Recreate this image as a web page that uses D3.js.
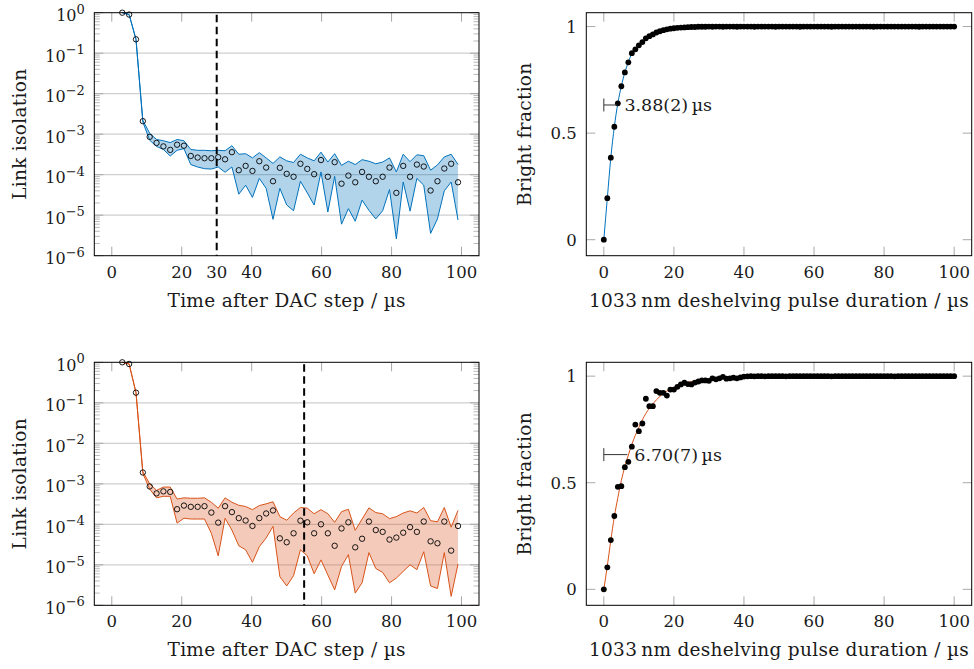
<!DOCTYPE html>
<html><head><meta charset="utf-8">
<script src="https://cdn.jsdelivr.net/npm/d3@7"></script>
<style>
body{margin:0;background:#fff}
text{font-family:"DejaVu Serif",serif;fill:#1a1a1a}
</style>
</head><body>
<svg id="c" width="974" height="669"></svg>
<script>
// ---------- data ----------
const timeUs = [3.00, 4.96, 6.92, 8.88, 10.84, 12.80, 14.76, 16.71, 18.67, 20.63,
  22.59, 24.55, 26.51, 28.47, 30.43, 32.39, 34.35, 36.31, 38.27, 40.22,
  42.18, 44.14, 46.10, 48.06, 50.02, 51.98, 53.94, 55.90, 57.86, 59.82,
  61.78, 63.73, 65.69, 67.65, 69.61, 71.57, 73.53, 75.49, 77.45, 79.41,
  81.37, 83.33, 85.29, 87.24, 89.20, 91.16, 93.12, 95.08, 97.04, 99.00];

const isoA = [1.0, 0.9, 0.22, 2.1e-3, 8.6e-4, 6.1e-4, 5.0e-4, 4.1e-4, 5.5e-4, 5.2e-4,
  2.9e-4, 2.65e-4, 2.55e-4, 2.55e-4, 2.7e-4, 2.4e-4, 3.6e-4, 1.29e-4, 1.65e-4, 1.24e-4,
  2.15e-4, 1.5e-4, 6.9e-5, 1.48e-4, 1.05e-4, 8.9e-5, 1.86e-4, 1.39e-4, 1.03e-4, 2.3e-4,
  8.9e-5, 2.04e-4, 6.0e-5, 9.5e-5, 6.5e-5, 1.17e-4, 8.9e-5, 6.9e-5, 8.9e-5, 1.5e-4,
  3.56e-5, 1.65e-4, 8.9e-5, 1.78e-4, 1.59e-4, 4.07e-5, 6.9e-5, 1.42e-4, 1.86e-4, 6.5e-5];
const isoAUpper = [1.0, 0.9, 0.22, 2.2e-3, 1.05e-3, 7.4e-4, 6.9e-4, 6.2e-4, 7.4e-4, 6.9e-4,
  4.2e-4, 4.0e-4, 4.0e-4, 3.9e-4, 4.0e-4, 3.9e-4, 5.2e-4, 3.2e-4, 3.3e-4, 2.6e-4,
  3.5e-4, 2.6e-4, 1.9e-4, 2.75e-4, 2.2e-4, 2.0e-4, 3.2e-4, 2.6e-4, 2.2e-4, 3.6e-4,
  2.05e-4, 3.3e-4, 1.7e-4, 2.15e-4, 1.78e-4, 2.35e-4, 2.15e-4, 1.86e-4, 2.05e-4, 2.6e-4,
  1.17e-4, 3.2e-4, 2.1e-4, 3.1e-4, 2.95e-4, 1.29e-4, 1.74e-4, 2.75e-4, 3.2e-4, 1.78e-4];
const isoALower = [1.0, 0.9, 0.22, 2.0e-3, 7.1e-4, 5.0e-4, 4.2e-4, 2.9e-4, 4.0e-4, 4.4e-4,
  1.78e-4, 1.55e-4, 1.41e-4, 1.38e-4, 1.55e-4, 1.15e-4, 1.55e-4, 3.3e-5, 5.5e-5, 2.75e-5,
  8.1e-5, 4.6e-5, 7.9e-6, 4.6e-5, 1.78e-5, 1.29e-5, 6.9e-5, 3.55e-5, 1.78e-5, 1.17e-4,
  1.2e-5, 9.1e-5, 6.0e-6, 1.45e-5, 7.1e-6, 2.35e-5, 1.32e-5, 8.1e-6, 1.29e-5, 4.3e-5,
  2.6e-6, 6.6e-5, 1.26e-5, 8.1e-5, 5.5e-5, 3.55e-6, 8.1e-6, 4.0e-5, 6.6e-5, 7.6e-6];

const isoB = [1.0, 0.91, 0.178, 1.9e-3, 8.6e-4, 5.8e-4, 6.5e-4, 6.3e-4, 2.36e-4, 2.9e-4,
  2.7e-4, 2.7e-4, 2.8e-4, 1.95e-4, 1.1e-4, 2.8e-4, 2.0e-4, 1.42e-4, 1.24e-4, 9.1e-5,
  1.42e-4, 1.85e-4, 2.2e-4, 4.5e-5, 3.6e-5, 6.0e-5, 1.23e-4, 1.12e-4, 6.0e-5, 1.0e-4,
  6.0e-5, 2.95e-5, 7.9e-5, 1.12e-4, 2.7e-5, 4.4e-5, 1.17e-4, 7.2e-5, 6.5e-5, 4.2e-5,
  4.7e-5, 6.2e-5, 8.5e-5, 6.5e-5, 1.17e-4, 3.8e-5, 3.4e-5, 1.17e-4, 2.24e-5, 9.1e-5];
const isoBUpper = [1.0, 0.91, 0.178, 2.0e-3, 1.0e-3, 6.9e-4, 8.3e-4, 8.3e-4, 4.2e-4, 4.5e-4,
  4.4e-4, 4.4e-4, 4.5e-4, 3.5e-4, 2.5e-4, 4.5e-4, 3.5e-4, 2.95e-4, 2.75e-4, 2.3e-4,
  2.9e-4, 3.2e-4, 3.6e-4, 1.55e-4, 1.26e-4, 1.9e-4, 2.6e-4, 2.5e-4, 1.82e-4, 2.3e-4,
  1.82e-4, 1.12e-4, 2.05e-4, 2.35e-4, 7.1e-5, 1.35e-4, 2.55e-4, 1.95e-4, 1.82e-4, 1.38e-4,
  1.55e-4, 1.9e-4, 2.15e-4, 1.9e-4, 2.6e-4, 1.23e-4, 1.15e-4, 2.6e-4, 8.5e-5, 2.2e-4];
const isoBLower = [1.0, 0.91, 0.178, 1.8e-3, 7.4e-4, 4.5e-4, 4.9e-4, 4.9e-4, 1.07e-4, 1.41e-4,
  1.35e-4, 1.35e-4, 1.35e-4, 6.0e-5, 1.66e-5, 1.41e-4, 7.2e-5, 2.95e-5, 2.35e-5, 1.15e-5,
  2.8e-5, 4.6e-5, 8.9e-5, 5.1e-6, 3.0e-6, 5.4e-6, 2.35e-5, 1.66e-5, 6.0e-6, 1.32e-5,
  5.6e-6, 2.4e-6, 9.1e-6, 1.78e-5, 2.0e-6, 3.6e-6, 2.0e-5, 8.1e-6, 6.5e-6, 3.6e-6,
  4.7e-6, 6.9e-6, 1.0e-5, 7.6e-6, 2.1e-5, 3.0e-6, 2.6e-6, 2.0e-5, 1.66e-6, 1.05e-5];

const dacMarkerA = 30, dacMarkerB = 55;

const pulseUs = [0,1,2,3,4,5,6,7,8,9,10,11,12,13,14,15,16,17,18,19,20,21,22,23,24,25,26,27,28,29,
  30,31,32,33,34,35,36,37,38,39,40,41,42,43,44,45,46,47,48,49,50,51,52,53,54,55,56,57,58,59,
  60,61,62,63,64,65,66,67,68,69,70,71,72,73,74,75,76,77,78,79,80,81,82,83,84,85,86,87,88,89,
  90,91,92,93,94,95,96,97,98,99,100];
const brightA = [0.0, 0.195, 0.385, 0.53, 0.64, 0.72, 0.785, 0.832, 0.875, 0.893,
  0.912, 0.927, 0.945, 0.955, 0.963, 0.972, 0.978, 0.983, 0.987, 0.99,
  0.992, 0.994, 0.995, 0.996, 0.997, 0.998, 0.998, 0.999, 0.999, 0.999,
  1.0, 0.999, 1.0, 1.0, 0.999, 1.0, 1.0, 1.0, 0.999, 1.0,
  1.0, 1.0, 1.0, 0.999, 1.0, 1.0, 1.0, 1.0, 1.0, 0.999,
  1.0, 1.0, 1.0, 1.0, 1.0, 1.0, 0.999, 1.0, 1.0, 1.0,
  1.0, 1.0, 1.0, 1.0, 1.0, 0.999, 1.0, 1.0, 1.0, 1.0,
  1.0, 1.0, 1.0, 1.0, 1.0, 1.0, 1.0, 0.999, 1.0, 1.0,
  1.0, 1.0, 1.0, 1.0, 1.0, 1.0, 1.0, 1.0, 1.0, 1.0,
  0.999, 1.0, 1.0, 1.0, 1.0, 1.0, 1.0, 1.0, 1.0, 1.0, 1.0];
const brightB = [0.0, 0.103, 0.231, 0.344, 0.481, 0.484, 0.573, 0.598, 0.669, 0.773,
  0.742, 0.778, 0.894, 0.859, 0.859, 0.93, 0.922, 0.922, 0.909, 0.937,
  0.937, 0.95, 0.961, 0.969, 0.963, 0.961, 0.97, 0.975, 0.98, 0.98,
  0.978, 0.99, 0.985, 0.99, 0.997, 0.988, 0.99, 0.993, 0.99, 0.994,
  0.998, 0.999, 1.0, 0.999, 1.0, 1.0, 0.999, 1.0, 1.0, 1.0,
  1.0, 1.0, 0.999, 1.0, 1.0, 1.0, 1.0, 1.0, 1.0, 1.0,
  1.0, 1.0, 1.0, 1.0, 1.0, 0.999, 1.0, 1.0, 1.0, 1.0,
  1.0, 1.0, 1.0, 1.0, 1.0, 1.0, 1.0, 1.0, 1.0, 1.0,
  1.0, 1.0, 1.0, 0.999, 1.0, 1.0, 1.0, 1.0, 1.0, 1.0,
  1.0, 1.0, 1.0, 1.0, 1.0, 1.0, 1.0, 1.0, 1.0, 1.0, 1.0];
const fitBT = [0, 1, 2, 3, 4, 5, 6, 7, 8, 10, 12, 14, 16, 18, 20, 25, 30, 35, 40, 50, 60, 80, 100];
const fitB  = [0, 0.11, 0.23, 0.34, 0.43, 0.51, 0.575, 0.63, 0.68, 0.76, 0.825, 0.87, 0.905, 0.93,
  0.948, 0.975, 0.988, 0.994, 0.997, 0.999, 1.0, 1.0, 1.0];

const tauA = 3.88, tauB = 6.70, tauLevel = 0.632;
const tauLabelA = "3.88(2)\u2009µs", tauLabelB = "6.70(7)\u2009µs";

const timeTicks = [0, 20, 40, 60, 80, 100];
const logExps = [0, -1, -2, -3, -4, -5, -6];
const brightTicks = [0, 0.5, 1];
const brightTickLabels = ["0", "0.5", "1"];

const BLUE = "#0072BD", ORANGE = "#D95319";
const TICK = "#a8a8a8", GRID = "#cfcfcf";

// ---------- drawing ----------
const svg = d3.select("#c");
const FS = 16.5, TFS = 18.5, TLS = 0.3;

function frame(g, x0, x1, y0, y1) {
  g.append("rect").attr("x", x0).attr("y", y0).attr("width", x1 - x0).attr("height", y1 - y0)
    .attr("fill", "none").attr("stroke", "#000").attr("stroke-width", 1);
}

function leftPanel(top, vals, hi, lo, color, marker, extraLabel) {
  const x0 = 94.3, x1 = 479, y0 = top, y1 = top + 243;
  const x = d3.scaleLinear().domain([-5, 105]).range([x0, x1]);
  const y = d3.scaleLog().domain([1e-6, 1]).range([y1, y0]);
  const g = svg.append("g");
  logExps.forEach(e => {
    if (e === 0 || e === -6) return;
    g.append("line").attr("x1", x0).attr("x2", x1).attr("y1", y(Math.pow(10, e))).attr("y2", y(Math.pow(10, e)))
      .attr("stroke", GRID).attr("stroke-width", 1.2);
  });
  for (let e = -6; e < 0; e++) {
    for (let m = 2; m <= 9; m++) {
      const yy = y(m * Math.pow(10, e));
      g.append("line").attr("x1", x0).attr("x2", x0 + 5.5).attr("y1", yy).attr("y2", yy).attr("stroke", TICK).attr("stroke-width", 0.8);
      g.append("line").attr("x1", x1).attr("x2", x1 - 5.5).attr("y1", yy).attr("y2", yy).attr("stroke", TICK).attr("stroke-width", 0.8);
    }
  }
  logExps.forEach(e => {
    const yy = y(Math.pow(10, e));
    g.append("line").attr("x1", x0).attr("x2", x0 + 9).attr("y1", yy).attr("y2", yy).attr("stroke", TICK);
    g.append("line").attr("x1", x1).attr("x2", x1 - 9).attr("y1", yy).attr("y2", yy).attr("stroke", TICK);
    const t = g.append("text").attr("x", x0 - 9.5).attr("y", yy + 8.5).attr("text-anchor", "end").attr("font-size", 16);
    t.append("tspan").text("10");
    t.append("tspan").attr("dy", -7.5).attr("font-size", 13).text(e === 0 ? "0" : "\u2212" + (-e));
  });
  timeTicks.forEach(v => {
    g.append("line").attr("x1", x(v)).attr("x2", x(v)).attr("y1", y1).attr("y2", y1 - 9).attr("stroke", TICK);
    g.append("line").attr("x1", x(v)).attr("x2", x(v)).attr("y1", y0).attr("y2", y0 + 9).attr("stroke", TICK);
  });
  const labels = timeTicks.slice();
  if (extraLabel !== null) labels.push(extraLabel);
  labels.forEach(v => {
    g.append("text").attr("x", x(v)).attr("y", y1 + 22).attr("text-anchor", "middle").attr("font-size", FS).text(v);
  });
  const data = timeUs.map((t, i) => ({t, v: vals[i], hi: hi[i], lo: lo[i]}));
  g.append("path").datum(data)
    .attr("d", d3.area().x(d => x(d.t)).y0(d => y(d.lo)).y1(d => y(d.hi)))
    .attr("fill", color).attr("fill-opacity", 0.3);
  g.append("path").datum(data).attr("d", d3.line().x(d => x(d.t)).y(d => y(d.hi)))
    .attr("fill", "none").attr("stroke", color).attr("stroke-width", 1);
  g.append("path").datum(data).attr("d", d3.line().x(d => x(d.t)).y(d => y(d.lo)))
    .attr("fill", "none").attr("stroke", color).attr("stroke-width", 1);
  g.selectAll(null).data(data).enter().append("circle")
    .attr("cx", d => x(d.t)).attr("cy", d => y(d.v)).attr("r", 2.7)
    .attr("fill", "none").attr("stroke", "#000").attr("stroke-width", 0.9);
  g.append("line").attr("x1", x(marker)).attr("x2", x(marker)).attr("y1", y0 + 2).attr("y2", y1)
    .attr("stroke", "#000").attr("stroke-width", 2).attr("stroke-dasharray", "7.5,4.5");
  frame(g, x0, x1, y0, y1);
  g.append("text").attr("x", (x0 + x1) / 2).attr("y", y1 + 51).attr("text-anchor", "middle").attr("font-size", TFS)
    .attr("letter-spacing", TLS).text("Time after DAC step / µs");
  g.append("text").attr("transform", `translate(26,${(y0 + y1) / 2}) rotate(-90)`).attr("text-anchor", "middle")
    .attr("font-size", TFS).attr("letter-spacing", TLS).text("Link isolation");
}

function rightPanel(top, vals, fitT, fitV, color, tau, tauLabel) {
  const x0 = 586.3, x1 = 971.7, y0 = top, y1 = top + 243;
  const x = d3.scaleLinear().domain([-5, 105]).range([x0, x1]);
  const y = d3.scaleLinear().domain([-0.075, 1.065]).range([y1, y0]);
  const g = svg.append("g");
  brightTicks.forEach((v, i) => {
    g.append("line").attr("x1", x0).attr("x2", x0 + 9).attr("y1", y(v)).attr("y2", y(v)).attr("stroke", TICK);
    g.append("line").attr("x1", x1).attr("x2", x1 - 9).attr("y1", y(v)).attr("y2", y(v)).attr("stroke", TICK);
    g.append("text").attr("x", x0 - 9.5).attr("y", y(v) + 6).attr("text-anchor", "end").attr("font-size", FS).text(brightTickLabels[i]);
  });
  timeTicks.forEach(v => {
    g.append("line").attr("x1", x(v)).attr("x2", x(v)).attr("y1", y1).attr("y2", y1 - 9).attr("stroke", TICK);
    g.append("line").attr("x1", x(v)).attr("x2", x(v)).attr("y1", y0).attr("y2", y0 + 9).attr("stroke", TICK);
    g.append("text").attr("x", x(v)).attr("y", y1 + 22).attr("text-anchor", "middle").attr("font-size", FS).text(v);
  });
  const fit = fitT.map((t, i) => ({t, v: fitV[i]}));
  g.append("path").datum(fit).attr("d", d3.line().x(d => x(d.t)).y(d => y(d.v)).curve(d3.curveMonotoneX))
    .attr("fill", "none").attr("stroke", color).attr("stroke-width", 1);
  g.selectAll(null).data(pulseUs.map((t, i) => ({t, v: vals[i]}))).enter().append("circle")
    .attr("cx", d => x(d.t)).attr("cy", d => y(d.v)).attr("r", 2.9).attr("fill", "#000");
  const ty = y(tauLevel);
  g.append("line").attr("x1", x(0)).attr("x2", x(tau)).attr("y1", ty).attr("y2", ty).attr("stroke", "#333").attr("stroke-width", 1);
  g.append("line").attr("x1", x(0)).attr("x2", x(0)).attr("y1", ty - 6.5).attr("y2", ty + 6.5).attr("stroke", "#333").attr("stroke-width", 1);
  g.append("text").attr("x", x(tau) + 7).attr("y", ty + 6).attr("font-size", 17.5).text(tauLabel);
  frame(g, x0, x1, y0, y1);
  g.append("text").attr("x", (x0 + x1) / 2).attr("y", y1 + 51).attr("text-anchor", "middle").attr("font-size", TFS)
    .attr("letter-spacing", TLS).text("1033\u2009nm deshelving pulse duration / µs");
  g.append("text").attr("transform", `translate(531,${(y0 + y1) / 2}) rotate(-90)`).attr("text-anchor", "middle")
    .attr("font-size", TFS).attr("letter-spacing", TLS).text("Bright fraction");
}

leftPanel(12.7, isoA, isoAUpper, isoALower, BLUE, dacMarkerA, dacMarkerA);
leftPanel(362.3, isoB, isoBUpper, isoBLower, ORANGE, dacMarkerB, null);
rightPanel(12.7, brightA, pulseUs, brightA, BLUE, tauA, tauLabelA);
rightPanel(362.3, brightB, fitBT, fitB, ORANGE, tauB, tauLabelB);
</script>
</body></html>
